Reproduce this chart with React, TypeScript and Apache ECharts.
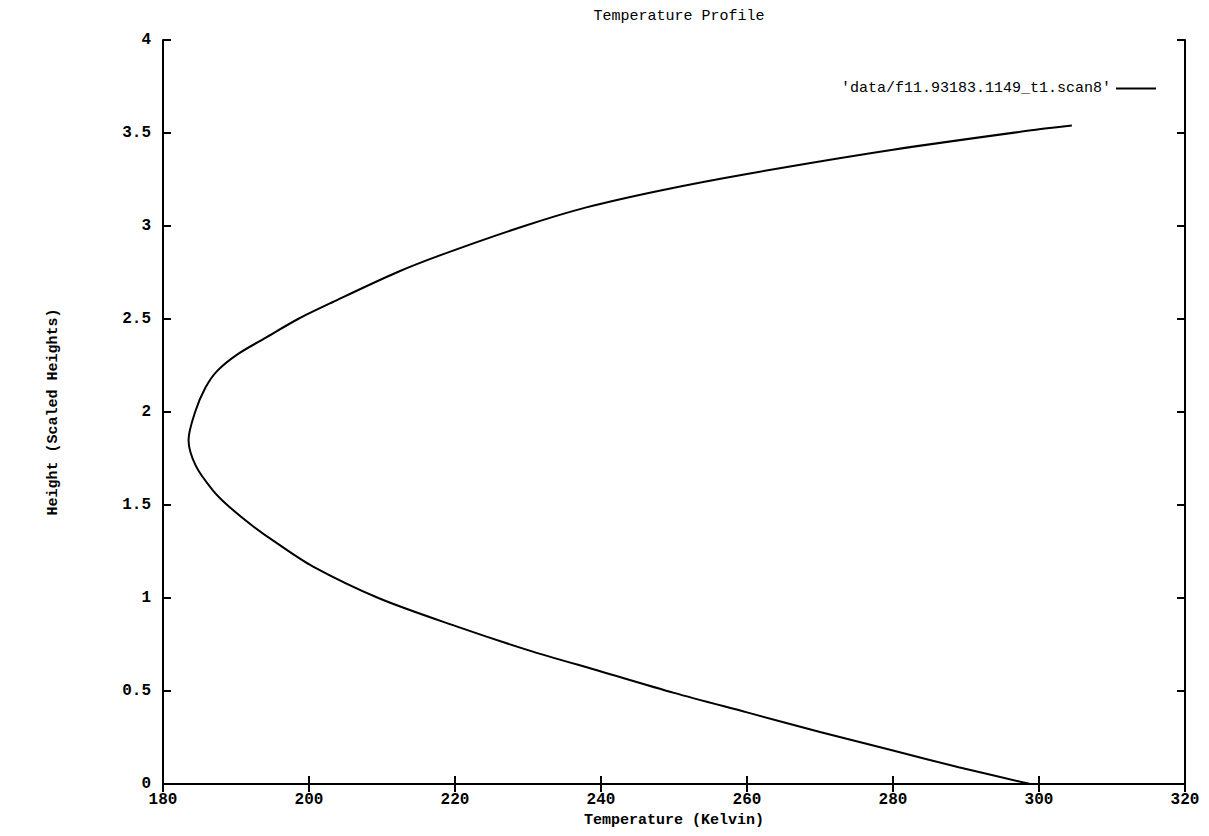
import React, { useEffect, useRef } from "react";
import * as echarts from "echarts";

const seriesName = "'data/f11.93183.1149_t1.scan8'";
// Temperature (Kelvin) and height (scaled heights)
const temperature = [
  298.8, 289, 280, 270, 260, 250, 240, 230, 220, 209.5, 200.5, 195.4, 192.2,
  188.8, 186.8, 184.5, 183.5, 184.4, 185.8, 187.4, 190.2, 194.1, 198.5, 203.2,
  212, 218.5, 229.5, 238, 248, 260, 280, 300, 304.5,
];
const height = [
  0, 0.09, 0.18, 0.28, 0.385, 0.49, 0.605, 0.72, 0.85, 1.0, 1.17, 1.3, 1.39,
  1.5, 1.58, 1.71, 1.85, 2.0, 2.13, 2.22, 2.31, 2.4, 2.5, 2.59, 2.75, 2.85,
  3.0, 3.1, 3.19, 3.28, 3.41, 3.52, 3.54,
];
const xTicks = [180, 200, 220, 240, 260, 280, 300, 320];
const yTicks = [0, 0.5, 1, 1.5, 2, 2.5, 3, 3.5, 4];

const FONT = "'Liberation Mono', 'DejaVu Sans Mono', monospace";

export default function App() {
  const ref = useRef<HTMLDivElement>(null);
  useEffect(() => {
    if (!ref.current) return;
    const chart = echarts.init(ref.current, undefined, { renderer: "svg" });
    const data = temperature.map((t, i) => [t, height[i]]);
    const axisLine = { show: true, lineStyle: { color: "#000", width: 2 } };
    const tick = { show: true, inside: true, length: 8, lineStyle: { color: "#000", width: 2 } };
    chart.setOption({
      animation: false,
      backgroundColor: "#fff",
      title: {
        text: "Temperature Profile",
        left: 674,
        top: 4,
        textAlign: "center",
        textStyle: { fontFamily: FONT, fontSize: 15, fontWeight: "normal", color: "#000" },
      },
      legend: {
        data: [seriesName],
        right: 48,
        top: 76,
        align: "right",
        icon: "rect",
        itemWidth: 40,
        itemHeight: 2,
        itemGap: 10,
        textStyle: { fontFamily: FONT, fontSize: 15, color: "#000" },
      },
      grid: { left: 163, right: 24, top: 40, bottom: 52, containLabel: false },
      xAxis: [
        {
          type: "value",
          min: xTicks[0],
          max: xTicks[xTicks.length - 1],
          interval: 20,
          position: "bottom",
          name: "Temperature (Kelvin)",
          nameLocation: "middle",
          nameGap: 26,
          nameTextStyle: { fontFamily: FONT, fontSize: 15, fontWeight: "bold", color: "#000" },
          axisLine,
          axisTick: tick,
          splitLine: { show: false },
          axisLabel: { fontFamily: FONT, fontSize: 16, fontWeight: "bold", color: "#000", margin: 8 },
        },
        {
          type: "value",
          min: xTicks[0],
          max: xTicks[xTicks.length - 1],
          interval: 20,
          position: "top",
          axisLine,
          axisTick: tick,
          splitLine: { show: false },
          axisLabel: { show: false },
        },
      ],
      yAxis: [
        {
          type: "value",
          min: yTicks[0],
          max: yTicks[yTicks.length - 1],
          interval: 0.5,
          position: "left",
          name: "Height (Scaled Heights)",
          nameLocation: "middle",
          nameGap: 102,
          nameRotate: 90,
          nameTextStyle: { fontFamily: FONT, fontSize: 15, fontWeight: "bold", color: "#000" },
          axisLine,
          axisTick: tick,
          splitLine: { show: false },
          axisLabel: { fontFamily: FONT, fontSize: 16, fontWeight: "bold", color: "#000", margin: 12 },
        },
        {
          type: "value",
          min: yTicks[0],
          max: yTicks[yTicks.length - 1],
          interval: 0.5,
          position: "right",
          axisLine,
          axisTick: tick,
          splitLine: { show: false },
          axisLabel: { show: false },
        },
      ],
      series: [
        {
          name: seriesName,
          type: "line",
          data,
          smooth: 0.3,
          showSymbol: false,
          symbol: "none",
          lineStyle: { color: "#000", width: 2 },
          itemStyle: { color: "#000" },
          xAxisIndex: 0,
          yAxisIndex: 0,
        },
      ],
    });
    return () => chart.dispose();
  }, []);
  return (
    <div
      ref={ref}
      style={{ position: "fixed", left: 0, top: 0, width: 1209, height: 836, background: "#fff" }}
    />
  );
}
